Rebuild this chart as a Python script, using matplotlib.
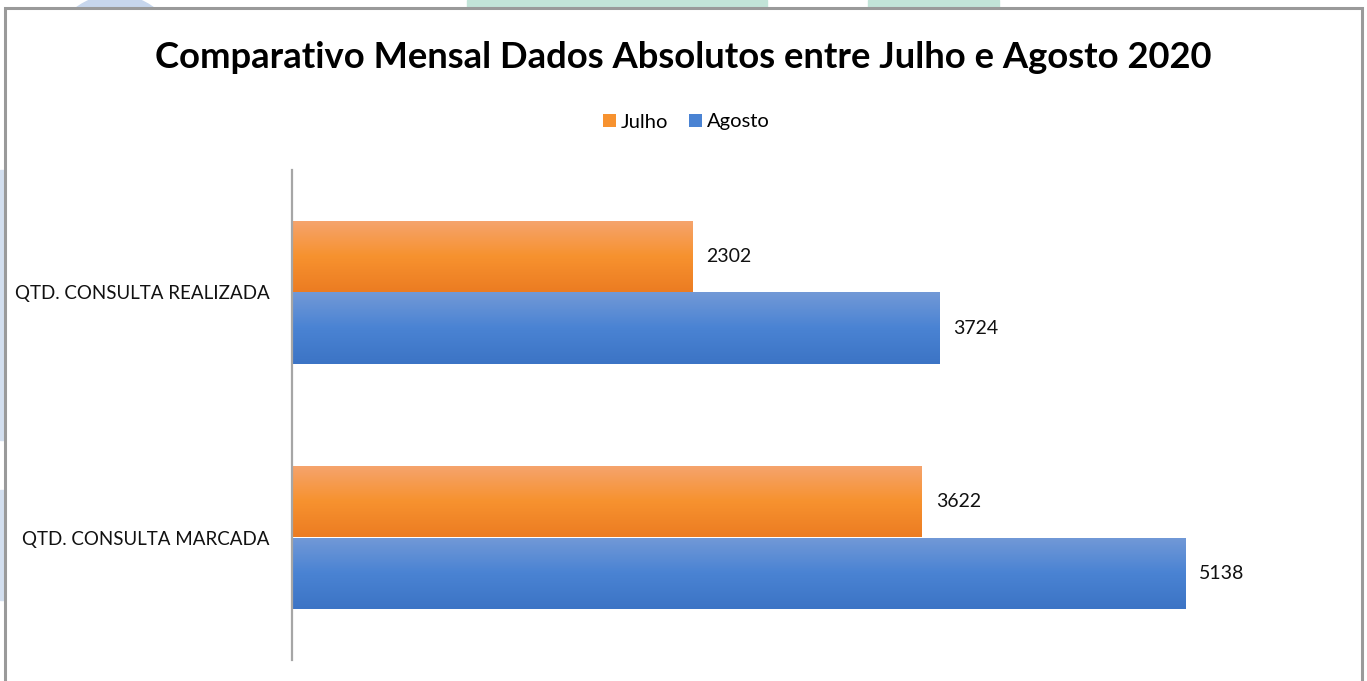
import numpy as np
import matplotlib.pyplot as plt
from matplotlib.patches import Rectangle, Ellipse
from matplotlib.colors import LinearSegmentedColormap

categories = ["QTD. CONSULTA MARCADA", "QTD. CONSULTA REALIZADA"]
julho = [3622, 2302]
agosto = [5138, 3724]
series_names = ["Julho", "Agosto"]

title = "Comparativo Mensal Dados Absolutos entre Julho e Agosto 2020"
FONT = ["Lato", "DejaVu Sans"]

orange_grad = ["#F5A46E", "#F7922F", "#EC7C22"]
blue_grad = ["#7299D7", "#4A83D3", "#3C74C5"]

W, H = 1367, 681
fig = plt.figure(figsize=(W / 100, H / 100), dpi=100)


def fx(px):
    return px / W


def fy(py):
    return 1 - py / H


# faint background decoration outside the chart frame
deco = [
    Ellipse((fx(115), fy(60)), fx(130), 130 / H, color="#C7D6EC"),
    Rectangle((fx(467), fy(10)), fx(300), 10 / H, color="#C2E4D8"),
    Rectangle((fx(868), fy(10)), fx(131), 10 / H, color="#C2E4D8"),
    Rectangle((0, fy(440)), fx(4), 270 / H, color="#D3DFEF"),
    Rectangle((0, fy(600)), fx(4), 110 / H, color="#D3DFEF"),
]
for p in deco:
    p.set_transform(fig.transFigure)
    fig.patches.append(p)

frame = Rectangle((fx(5), -0.01), fx(1357), fy(8) + 0.01, transform=fig.transFigure,
                  facecolor="white", edgecolor="#9A9A9A", linewidth=2.2, zorder=1)
fig.patches.append(frame)

ax = fig.add_axes([fx(292), fy(660), fx(1043), 490 / H], zorder=2)
ax.patch.set_alpha(0)

y = np.arange(len(categories))
h = 0.29
bars_j = ax.barh(y + h / 2, julho, height=h, color="#F7922F", label=series_names[0])
bars_a = ax.barh(y - h / 2, agosto, height=h, color="#4A83D3", label=series_names[1])


def gradient_fill(bars, colors):
    cmap = LinearSegmentedColormap.from_list("g", colors)
    grad = np.linspace(0, 1, 100).reshape(-1, 1)
    for b in bars:
        x0, y0 = b.get_x(), b.get_y()
        im = ax.imshow(grad, cmap=cmap, aspect="auto", origin="upper",
                       extent=[x0, x0 + b.get_width(), y0, y0 + b.get_height()], zorder=2)
        im.set_clip_path(b)
        b.set_alpha(0)


gradient_fill(bars_j, orange_grad)
gradient_fill(bars_a, blue_grad)

for bars, vals in ((bars_j, julho), (bars_a, agosto)):
    for b, v in zip(bars, vals):
        ax.text(v + 82, b.get_y() + b.get_height() / 2, str(v), va="center", ha="left",
                fontsize=14, family=FONT, color="#111111")

ax.set_xlim(0, 6000)
ax.set_ylim(-0.5, 1.5)
ax.set_yticks(y)
ax.set_yticklabels(categories, fontsize=13.5, family=FONT, color="#111111")
ax.tick_params(axis="y", length=0, pad=16)
ax.set_xticks([])
for s in ["top", "right", "bottom"]:
    ax.spines[s].set_visible(False)
ax.spines["left"].set_color("#A6A6A6")
ax.spines["left"].set_linewidth(1.6)

fig.text(0.5, fy(58), title, ha="center", va="center", fontsize=26.2,
         fontweight="bold", family=FONT, color="black", zorder=3)

leg = fig.legend(handles=[bars_j, bars_a], labels=series_names, loc="center",
                 bbox_to_anchor=(0.502, fy(122)), ncol=2, frameon=False,
                 handlelength=0.65, handleheight=0.65, handletextpad=0.25,
                 columnspacing=1.0, prop={"family": FONT, "size": 14.5})
for hnd, c in zip(leg.legend_handles, ["#F7922F", "#4A83D3"]):
    hnd.set_alpha(1)
    hnd.set_facecolor(c)
leg.set_zorder(3)

fig.savefig("out.png", dpi=100)
